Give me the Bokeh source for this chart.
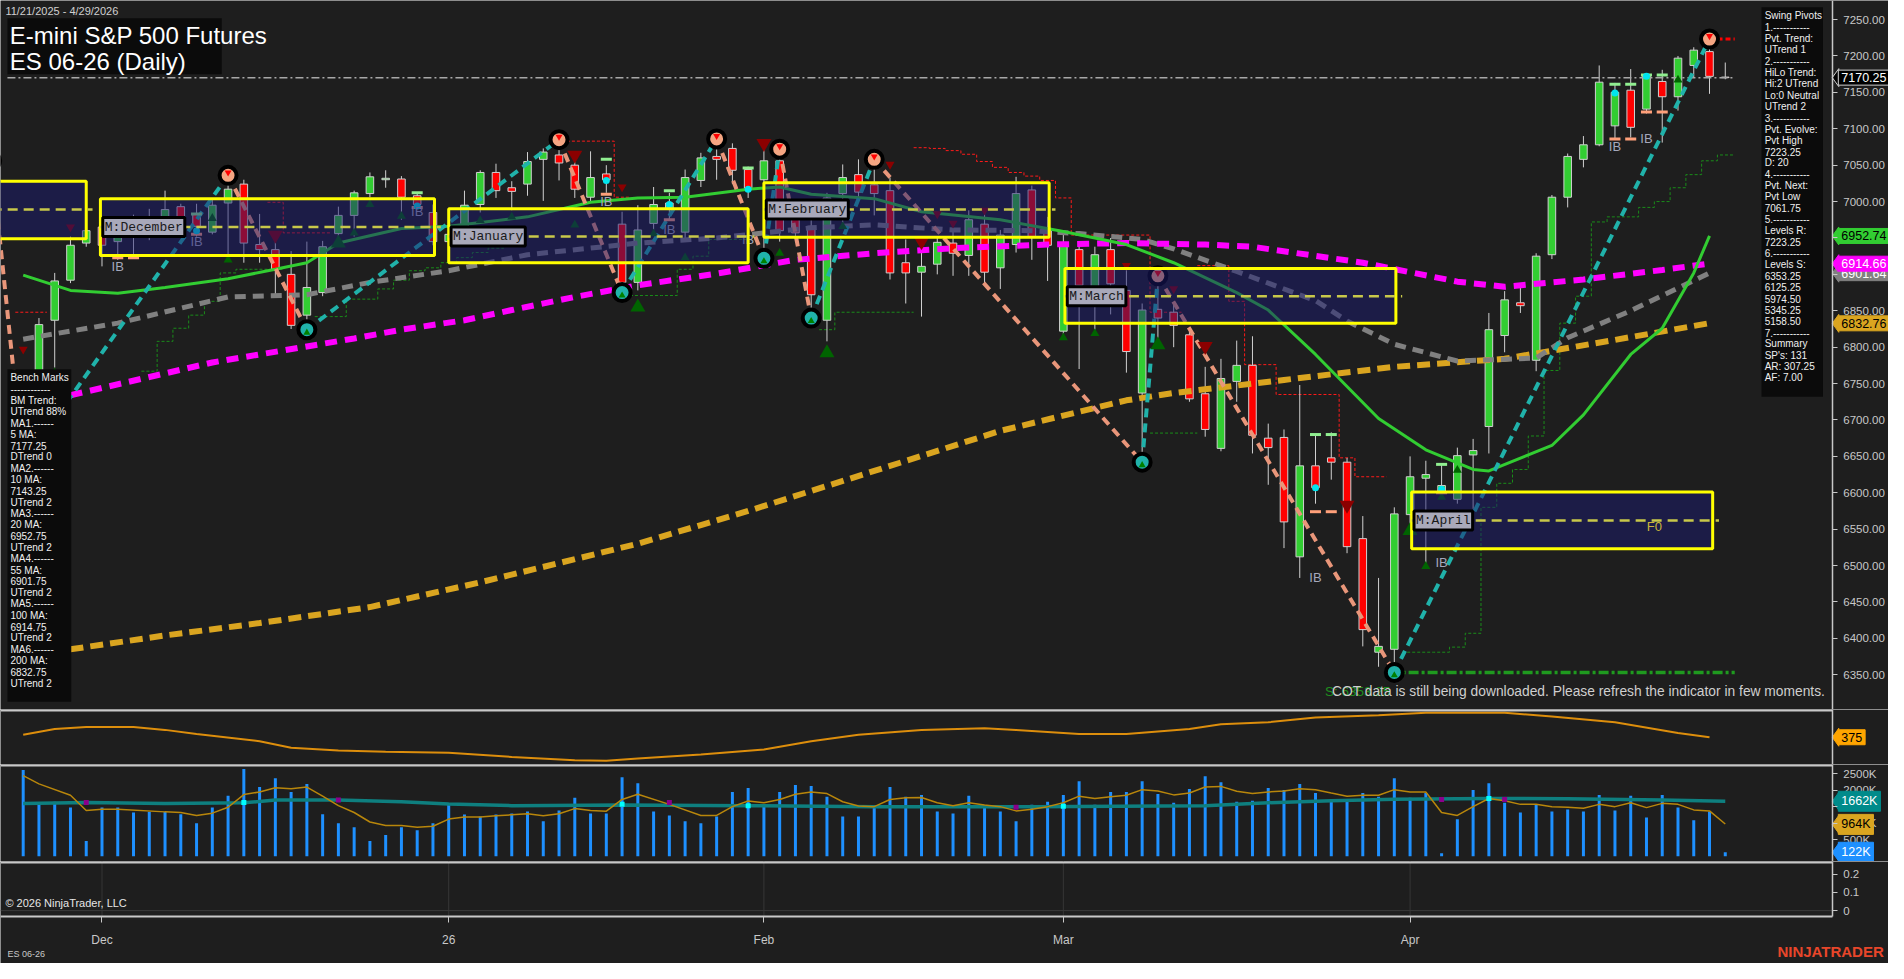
from bokeh.plotting import figure
from bokeh.layouts import column
from bokeh.models import (ColumnDataSource, Range1d, FixedTicker, NumeralTickFormatter,
                          PrintfTickFormatter, CustomJSTickFormatter, Label)
from bokeh.core.properties import value
from bokeh.embed import file_html
from bokeh.resources import INLINE

# ---------------- data ----------------
date_range = "11/21/2025 - 4/29/2026"
title_1 = "E-mini S&P 500 Futures"
title_2 = "ES 06-26 (Daily)"
month_ticks = [5, 27, 47, 66, 88]
month_labels = ["Dec", "26", "Feb", "Mar", "Apr"]

opens = [6700, 6767, 6837, 6892, 6943, 6965, 6945, 6960, 6965, 6977,
         6993, 6983, 6958, 6998, 7024, 6941, 6934, 6900, 6844, 6875,
         6956, 6981, 7011, 7030, 7031, 7008, 6985, 6945, 6952, 6996,
         7040, 7019, 7024, 7058, 7064, 7050, 7006, 7038, 6969, 6889,
         6970, 6990, 6958, 7029, 7062, 7073, 7044, 7030, 7056, 6988,
         6966, 6837, 7011, 7037, 7023, 7015, 6916, 6903, 6914, 6943,
         6926, 6969, 6909, 6941, 7016, 6960, 6822, 6934, 6864, 6934,
         6878, 6737, 6852, 6848, 6817, 6736, 6661, 6753, 6775, 6675,
         6676, 6512, 6637, 6648, 6642, 6537, 6381, 6385, 6570, 6620,
         6600, 6591, 6652, 6691, 6816, 6861, 6782, 6927, 7006, 7058,
         7078, 7104, 7153, 7127, 7165, 7144, 7187, 7206, 7171]
highs = [6760, 6840, 6902, 6952, 6972, 6968, 6965, 6982, 6990, 7015,
         6997, 6997, 7003, 7036, 7030, 6983, 6950, 6932, 6945, 6946,
         6993, 7015, 7040, 7043, 7035, 7012, 6996, 6975, 7015, 7043,
         7052, 7028, 7068, 7073, 7085, 7057, 7069, 7050, 6986, 6995,
         7020, 7012, 7044, 7067, 7086, 7080, 7048, 7072, 7072, 7000,
         6975, 7012, 7051, 7058, 7058, 7033, 6948, 6938, 6952, 6961,
         6988, 6984, 6961, 7034, 7022, 6979, 6955, 6940, 6938, 6950,
         6907, 6860, 6898, 6862, 6822, 6773, 6784, 6809, 6815, 6695,
         6687, 6748, 6680, 6683, 6648, 6568, 6483, 6580, 6650, 6644,
         6639, 6662, 6674, 6847, 6877, 6887, 6929, 7009, 7066, 7090,
         7187, 7163, 7182, 7176, 7181, 7200, 7212, 7223.25, 7191]
lows = [6640, 6755, 6772, 6888, 6938, 6911, 6920, 6925, 6947, 6966,
        6961, 6952, 6955, 6918, 6916, 6916, 6873, 6825, 6824, 6870,
        6943, 6952, 7006, 7019, 6975, 6992, 6940, 6925, 6945, 6985,
        7005, 6988, 7008, 7001, 7029, 7005, 7000, 7012, 6875, 6878,
        6961, 6975, 6948, 7020, 7030, 7024, 7005, 6922, 6945, 6945,
        6840, 6808, 6965, 7000, 6981, 6893, 6860, 6842, 6900, 6898,
        6898, 6884, 6880, 6930, 6920, 6891, 6815, 6770, 6824, 6845,
        6765, 6642, 6810, 6800, 6725, 6677, 6657, 6725, 6654, 6611,
        6524, 6483, 6585, 6618, 6517, 6389, 6361, 6353.25, 6555, 6502,
        6597, 6585, 6578, 6654, 6793, 6847, 6767, 6921, 6992, 7047,
        7076, 7086, 7088, 7121, 7081, 7125, 7170, 7148, 7168]
closes = [6752, 6831, 6891, 6940, 6960, 6940, 6952, 6970, 6972, 6989,
          6966, 6966, 6995, 7017, 6943, 6934, 6907, 6830, 6882, 6938,
          6981, 7012, 7034, 7032, 7006, 6996, 6945, 6955, 6995, 7040,
          7015, 7014, 7055, 7068, 7053, 7017, 7033, 7030, 6889, 6961,
          6996, 6998, 7033, 7060, 7058, 7043, 7018, 7056, 6960, 6957,
          6872, 7005, 7033, 7013, 7011, 6902, 6902, 6911, 6944, 6929,
          6975, 6903, 6954, 7011, 6952, 6940, 6943, 6885, 6927, 6887,
          6794, 6851, 6840, 6830, 6729, 6687, 6757, 6775, 6679, 6662,
          6560, 6637, 6607, 6642, 6526, 6412, 6389, 6571, 6622, 6625,
          6610, 6651, 6658, 6824, 6865, 6857, 6925, 7006, 7062, 7078,
          7164, 7150, 7102, 7173, 7144, 7197, 7208, 7172, 7170.25]
volume_k = [2605, 1619, 1648, 1471, 465, 1471, 1471, 1323, 1342, 1342,
            1273, 997, 1471, 1826, 2634, 2092, 2358, 1944, 2181, 1273,
            997, 879, 465, 642, 879, 790, 997, 1589, 1264, 1204,
            1264, 1293, 1352, 1056, 1382, 1767, 1293, 1293, 2388,
            2210, 1352, 1234, 1056, 997, 1204, 1944, 2062, 1500, 1944,
            2151, 2122, 1796, 1204, 1204, 1500, 2092, 1796, 1855, 1352,
            1293, 1826, 1471, 1352, 1056, 1559, 1648, 1855, 2270, 1559,
            1944, 1944, 2270, 1885, 1619, 2033, 2417, 2240, 1648, 1678,
            2062, 2003, 2181, 1914, 1707, 1707, 1914, 1796, 2358, 1767,
            1914, 90, 1116, 2003, 2210, 1619, 1323, 1559, 1352, 1411,
            1352, 1855, 1382, 1826, 1175, 1855, 1471, 1086, 1352, 122]

# moving averages (bar index, value)
ma20_x = [0, 3, 6, 9, 13, 16, 18, 20, 24, 27, 32, 36, 39, 42, 46, 48, 50, 54, 57, 62,
          66, 70, 73, 77, 79, 82, 86, 89, 92, 93, 97, 99, 102, 104, 106, 107]
ma20_y = [6899, 6878, 6874, 6882, 6894, 6907, 6916, 6943, 6963, 6966, 6979, 6999, 7005, 7006, 7017, 7020, 7010, 7004, 6986, 6975,
          6959, 6941, 6916, 6875, 6851, 6790, 6702, 6659, 6632, 6630, 6665, 6707, 6790, 6826, 6902, 6953]
ma100_x = [3, 9, 12, 15, 18, 21, 24, 28, 31, 35, 39, 44, 49, 54, 59, 65, 70, 75, 78, 85, 91, 94, 99, 104, 107]
ma100_y = [6734, 6764, 6779, 6790, 6801, 6812, 6824, 6837, 6851, 6869, 6885, 6901, 6920, 6929, 6936, 6941, 6943, 6941, 6938, 6916, 6890, 6883, 6893, 6906, 6915]
ma55_x = [0, 6, 13, 18, 22, 27, 32, 39, 44, 50, 54, 59, 64, 67, 71, 73, 77, 82, 84, 87, 91, 96, 98, 102, 105, 107]
ma55_y = [6811, 6833, 6869, 6872, 6889, 6905, 6927, 6943, 6950, 6964, 6968, 6961, 6960, 6956, 6948, 6935, 6904, 6864, 6836, 6804, 6781, 6785, 6813, 6850, 6881, 6902]
ma200_x = [3, 9, 15, 22, 29, 39, 46, 54, 62, 70, 73, 80, 87, 94, 101, 107]
ma200_y = [6385, 6404, 6421, 6443, 6477, 6530, 6575, 6630, 6685, 6727, 6737, 6755, 6773, 6784, 6810, 6833]

# swing pivots
piv_x = [-2, 0, 13, 18, 34, 38, 44, 47, 48, 50, 54, 71, 72, 87, 107]
piv_y = [7056, 6640, 7036, 6824, 7085, 6875, 7086, 6922, 7072, 6840, 7058, 6642, 6898, 6353.25, 7223.25]
piv_kind = ["H", "L", "H", "L", "H", "L", "H", "L", "H", "L", "H", "L", "H", "L", "H"]

# monthly value-area boxes
box_left = [-2.0, 4.9, 27.0, 47.0, 66.1, 88.1]
box_right = [4.0, 26.1, 46.0, 65.1, 87.1, 107.2]
box_top = [7028, 7004, 6990, 7026, 6908, 6601]
box_bottom = [6949, 6926, 6916, 6951, 6833, 6523]
box_mid = [6989, 6965, 6952, 6989, 6870, 6562]
box_names = ["", "M:December", "M:January", "M:February", "M:March", "M:April"]

# signal markers
dn_x = [0, 3, 16, 35, 38, 47, 55, 57, 58, 59, 61, 70, 73, 75, 84]
dn_y = [6797, 6965, 6954, 7064, 7020, 7080, 7051, 6945, 6983, 6970, 6988, 6912, 6880, 6801, 6583]
dn_big = [0, 0, 1, 1, 0, 1, 0, 1, 0, 0, 0, 0, 0, 1, 1]
up_x = [2, 12, 13, 20, 21, 22, 24, 29, 31, 35, 39, 40, 42, 48, 51, 52, 66, 68, 72, 88, 89, 90, 91, 105]
up_y = [6765, 6977, 6920, 6943, 6957, 6996, 6980, 6974, 6979, 6968, 6855, 6956, 6923, 6929, 6792, 6966, 6813, 6819, 6803, 6548, 6499, 6594, 6631, 7167]
up_big = [0, 0, 0, 1, 0, 0, 0, 0, 0, 0, 1, 0, 0, 0, 1, 0, 0, 0, 1, 1, 0, 0, 0, 0]
dot_x = [11, 25, 37, 41, 46, 82, 90, 101, 103]
dot_y = [6960, 6994, 7029, 6996, 7017, 6607, 6605, 7149, 7172]
ibh_x = [6, 7, 11, 25, 37, 41, 46, 82, 83, 90, 101, 102, 103, 104]
ibh_y = [6973, 6973, 6983, 7012, 7058, 7015, 7046, 6680, 6680, 6639, 7161, 7161, 7174, 7174]
ibl_x = [6, 7, 11, 25, 37, 41, 82, 83, 90, 101, 102, 103, 104]
ibl_y = [6923, 6923, 6955, 6992, 7010, 6975, 6574, 6574, 6600, 7086, 7086, 7123, 7123]
ib_x = [6, 11, 25, 37, 41, 46, 82, 90, 101, 103]
ib_y = [6911, 6945, 6986, 7000, 6962, 6948, 6483, 6504, 7075, 7086]

# trailing step levels (bar, level)
green_steps = [
    ([8, 9, 10, 11, 12, 13, 14, 15, 16], [6767, 6808, 6826, 6844, 6863, 6902, 6907, 6907, 6907]),
    ([19, 20, 21, 22, 23, 24, 25, 26, 27, 28, 29, 30], [6842, 6842, 6866, 6866, 6880, 6892, 6905, 6909, 6916, 6923, 6930, 6936]),
    ([39, 40, 41, 42, 43, 44, 45, 46], [6871, 6871, 6871, 6907, 6925, 6948, 6948, 6948]),
    ([51, 52, 53, 54, 55, 56], [6824, 6848, 6848, 6848, 6848, 6848]),
    ([72, 73, 74], [6682, 6682, 6682]),
    ([88, 89, 90, 91, 92, 93, 94, 95, 96, 97, 98, 99, 100, 101, 102, 103, 104, 105, 106, 107, 108],
     [6381, 6381, 6381, 6388, 6407, 6580, 6613, 6632, 6678, 6768, 6833, 6870, 6972, 6979, 6979, 6992, 7000, 7019, 7037, 7056, 7064]),
]
red_steps = [
    ([0, 1], [6848, 6848]),
    ([16, 17, 18, 19], [6999, 6957, 6957, 6957]),
    ([35, 36, 37, 38], [7083, 7083, 7083, 7006]),
    ([57, 58, 59, 60, 61, 62, 63, 64, 65, 66, 67, 68, 69, 70, 71, 72, 73],
     [7074, 7073, 7070, 7065, 7055, 7047, 7040, 7035, 7029, 7005, 6954, 6954, 6954, 6954, 6954, 6848, 6848]),
    ([75, 76, 77, 78, 79, 80, 81, 82, 83, 84, 85, 86],
     [6912, 6912, 6863, 6776, 6776, 6735, 6735, 6735, 6735, 6648, 6622, 6622]),
]
last_price = 7170.25
support_level = 6353.25
last_pivot_high = 7223.25

# oscillator panel
osc_x = [0, 2, 4, 7, 9, 11, 15, 17, 20, 23, 27, 31, 35, 37, 39, 43, 47, 50, 53, 57,
         61, 63, 67, 70, 74, 76, 79, 82, 86, 89, 94, 97, 101, 105, 107]
osc_y = [385, 409, 417, 417, 405, 388, 359, 332, 321, 316, 312, 295, 281, 279, 288, 305, 325, 359, 385, 405,
         412, 405, 388, 388, 409, 428, 436, 455, 465, 475, 475, 459, 436, 392, 375]

# volume averages
vma_x = [0, 1, 3, 4, 5, 6] + list(range(9, 40)) + [41] + list(range(43, 109))
vma_y = [2437, 2189, 1846, 1382, 1421, 1421,
         1342, 1323, 1234, 1303, 1481, 1865, 1944, 2072, 2042, 2092, 1817, 1530, 1323, 1036, 928, 928, 879, 908, 1125, 1184,
         1184, 1225, 1254, 1284, 1225, 1284, 1441, 1382, 1362, 1717, 1876, 1569,
         1234, 1234, 1500, 1669, 1619, 1717, 1876, 1944, 1894, 1648, 1520, 1500, 1717, 1767, 1776, 1619, 1530, 1619, 1550, 1500,
         1372, 1421, 1500, 1619, 1817, 1747, 1796, 1846, 2013, 1974, 1855, 1914, 2092, 2112, 1964, 1894, 1944, 1974, 2042, 2013,
         1914, 1817, 1846, 1846, 2013, 1944, 1944, 1323, 1234, 1500, 1747, 1678, 1569, 1569, 1500, 1481, 1451, 1569, 1500, 1619,
         1471, 1599, 1569, 1402, 1372, 976]
vavg_x = [0, 4, 9, 14, 16, 20, 24, 27, 31, 38, 46, 54, 64, 75, 79, 83, 87, 93, 98, 104, 108]
vavg_y = [1598, 1628, 1598, 1618, 1698, 1698, 1648, 1580, 1530, 1550, 1530, 1500, 1500, 1530, 1619, 1678, 1727, 1747, 1737, 1698, 1662]
vpur_x = [4, 20, 41, 63, 90, 94]
vpur_y = [1628, 1698, 1627, 1480, 1717, 1717]
vcyan_x = [14, 38, 46, 66, 93]
vcyan_y = [1628, 1569, 1530, 1510, 1747]

swing_info = ["Swing Pivots", "1.-----------", "Pvt. Trend:", "UTrend 1", "2.-----------", "HiLo Trend:",
              "Hi:2 UTrend", "Lo:0 Neutral", "UTrend 2", "3.-----------", "Pvt. Evolve:", "Pvt High", "7223.25",
              "D: 20", "4.-----------", "Pvt. Next:", "Pvt Low", "7061.75", "5.-----------", "Levels R:", "7223.25",
              "6.-----------", "Levels S:", "6353.25", "6125.25", "5974.50", "5345.25", "5158.50", "7.-----------",
              "Summary", "SP's: 131", "AR: 307.25", "AF: 7.00"]
bench_info = ["Bench Marks", "------------", "BM Trend:", "UTrend 88%", "MA1.------", "5 MA:", "7177.25", "DTrend 0",
              "MA2.------", "10 MA:", "7143.25", "UTrend 2", "MA3.------", "20 MA:", "6952.75", "UTrend 2",
              "MA4.------", "55 MA:", "6901.75", "UTrend 2", "MA5.------", "100 MA:", "6914.75", "UTrend 2",
              "MA6.------", "200 MA:", "6832.75", "UTrend 2"]

# ---------------- styling / layout ----------------
BG = "#1e1e1e"
AXC = "#c8c8c8"
FONT = "Liberation Sans"
W = 1888
PXU = 15.76                 # pixels per bar
X0 = -1.44
X1 = X0 + W / PXU
AX_X = 114.79               # where the price axis sits
xr = Range1d(X0, X1)


def make_fig(h, y0, y1, bounds=None, xaxis=False):
    p = figure(width=W, height=h, x_range=xr, y_range=Range1d(y0, y1),
               output_backend="svg", toolbar_location=None,
               x_axis_location="below" if xaxis else None, y_axis_location="right",
               min_border=0, min_border_left=0, min_border_right=0, min_border_top=0,
               min_border_bottom=0, background_fill_color=BG,
               border_fill_color=BG, outline_line_color=None)
    p.grid.visible = False
    ax = p.yaxis[0]
    ax.fixed_location = AX_X
    if bounds is not None:
        ax.bounds = bounds
    ax.axis_line_color = AXC
    ax.axis_line_width = 1.5
    ax.major_tick_line_color = AXC
    ax.major_tick_out = 5
    ax.major_tick_in = 0
    ax.minor_tick_line_color = None
    ax.major_label_text_color = AXC
    ax.major_label_text_font = FONT
    ax.major_label_text_font_size = "11.5px"
    ax.major_label_standoff = 6
    return p


def tag(p, y, text, bg, fg, frame_h, y0, y1, border=None):
    du = (y1 - y0) / frame_h
    p.patch([AX_X, AX_X + 6.5 / PXU, AX_X + 6.5 / PXU], [y, y + 9 * du, y - 9 * du],
            fill_color=bg, line_color=border or bg, line_width=1)
    p.add_layout(Label(x=AX_X, y=y, x_offset=6, text=text, text_baseline="middle", text_align="left",
                       text_font=FONT, text_font_size="12.5px", text_color=fg,
                       background_fill_color=bg, border_line_color=border or bg, border_line_width=1,
                       padding=3))


def sep(p, y):
    p.line([X0, AX_X], [y, y], line_color=AXC, line_width=2)


def step_xy(bars, levels):
    xs, ys = [], []
    for b, v in zip(bars, levels):
        xs += [b - 0.5, b + 0.5]
        ys += [v, v]
    return xs, ys


# ---------- price panel ----------
PH = 709
PY0, PY1 = 6302.3, 7276.2
pp = make_fig(PH, PY0, PY1)
pp.yaxis[0].ticker = FixedTicker(ticks=list(range(6350, 7251, 50)))
pp.yaxis[0].formatter = NumeralTickFormatter(format="0.00")

for bars, lv in green_steps:
    xs, ys = step_xy(bars, lv)
    pp.line(xs, ys, line_color="#1a8c1a", line_width=1, line_dash="3 2")
for bars, lv in red_steps:
    xs, ys = step_xy(bars, lv)
    pp.line(xs, ys, line_color="#ff1a1a", line_width=1, line_dash="3 2")

idx = list(range(len(opens)))
csrc = ColumnDataSource(dict(
    x=idx, h=highs, l=lows,
    top=[max(o, c) for o, c in zip(opens, closes)],
    bot=[min(o, c) for o, c in zip(opens, closes)],
    col=["#32cd32" if c >= o else "#ff0000" for o, c in zip(opens, closes)]))
pp.segment(x0="x", y0="l", x1="x", y1="h", line_color="#d0d0d0", line_width=1, source=csrc)
pp.vbar(x="x", width=0.48, top="top", bottom="bot", fill_color="col", line_color="#d0d0d0",
        line_width=1, source=csrc)

pp.line(ma200_x, ma200_y, line_color="#daa520", line_width=6, line_dash="13 7")
pp.line(ma55_x, ma55_y, line_color="#808080", line_width=5, line_dash="11 7")
pp.line(ma100_x, ma100_y, line_color="#ff00ff", line_width=6, line_dash="12 8")
pp.line(ma20_x, ma20_y, line_color="#32cd32", line_width=3)

pp.line([-1.0, 108.6], [last_price, last_price], line_color="#a8a8a8", line_width=1.5, line_dash="8 3 2 3")
pp.line([86.7, 108.6], [support_level, support_level], line_color="#1f9a1f", line_width=3.5, line_dash="10 3 3 3")

# swing legs
for i in range(len(piv_x) - 1):
    up = piv_kind[i] == "L"
    pp.line([piv_x[i], piv_x[i + 1]], [piv_y[i], piv_y[i + 1]],
            line_color="#20b2aa" if up else "#e9967a", line_width=4, line_dash="9 6")
pp.line([107, 108.6], [last_pivot_high, last_pivot_high], line_color="#ff0000", line_width=3, line_dash="5 3")

# markers
pp.scatter(dn_x, dn_y, marker="inverted_triangle", size=[15 if b else 9 for b in dn_big],
           fill_color="#8b0000", line_color=None)
pp.scatter(up_x, up_y, marker="triangle", size=[15 if b else 9 for b in up_big],
           fill_color="#006400", line_color=None)
pp.rect(ibh_x, ibh_y, width=0.7, height=3, height_units="screen", fill_color="#90ee90", line_color=None)
pp.rect(ibl_x, ibl_y, width=0.7, height=3, height_units="screen", fill_color="#ffa07a", line_color=None)
pp.scatter(dot_x, dot_y, marker="circle", size=7, fill_color="#00e5ee", line_color=None)
pp.text(ib_x, ib_y, text=["IB"] * len(ib_x), text_font=value(FONT), text_font_size=value("13px"),
        text_color="#a4a8bc", text_align="center", text_baseline="middle")

# pivot circles
hx = [x for x, k in zip(piv_x, piv_kind) if k == "H"]
hy = [y for y, k in zip(piv_y, piv_kind) if k == "H"]
lx = [x for x, k in zip(piv_x, piv_kind) if k == "L"]
ly = [y for y, k in zip(piv_y, piv_kind) if k == "L"]
pp.scatter(hx, hy, marker="circle", size=17, fill_color="#f4a582", line_color="#000000", line_width=4)
pp.scatter(hx, [y + 4 for y in hy], marker="inverted_triangle", size=7, fill_color="#ff0000", line_color=None)
pp.scatter(lx, ly, marker="circle", size=17, fill_color="#20b2aa", line_color="#000000", line_width=4)
pp.scatter(lx, [y - 4 for y in ly], marker="triangle", size=7, fill_color="#008000", line_color=None)

# monthly boxes
pp.quad(left=box_left, right=box_right, top=box_top, bottom=box_bottom,
        fill_color="#191970", fill_alpha=0.5, line_color="#ffff00", line_width=3)
pp.segment(x0=box_left, x1=[r + 0.4 for r in box_right], y0=box_mid, y1=box_mid,
           line_color="#c8c84a", line_width=2.5, line_dash="10 6")
for l, m, n in zip(box_left, box_mid, box_names):
    if n:
        pp.add_layout(Label(x=l + 0.15, y=m, text=n, text_baseline="middle", text_align="left",
                            text_font="Liberation Mono", text_font_size="13px", text_color="#1a1a1a",
                            background_fill_color="#a9a9ba", border_line_color="#000000",
                            border_line_width=3, padding=2))
pp.text([103.5], [6553.5], text=["F0"], text_font=value(FONT), text_font_size=value("13px"),
        text_color="#c8b43c", text_align="center", text_baseline="middle")

# info boxes
pp.quad(left=[-1.0, 110.3, -1.0], right=[12.6, 114.2, 3.05], top=[7251.9, 7266.8, 6769.7],
        bottom=[7174.9, 6731.8, 6313.0], fill_color="#0b0b0b", line_color=None)
pp.text([-0.85, -0.85], [7228.5, 7192.5], text=[title_1, title_2], text_font=value(FONT),
        text_font_size=value("24px"), text_color="#ffffff", text_baseline="middle")
pp.text([-1.13], [7261.3], text=[date_range], text_font=value(FONT), text_font_size=value("11px"),
        text_color="#d0d0d0", text_baseline="middle")
pp.text([110.5] * len(swing_info), [7255.0 - 15.534 * k for k in range(len(swing_info))], text=swing_info,
        text_font=value(FONT), text_font_size=value("10px"), text_color="#f0f0f0", text_baseline="middle")
pp.text([-0.81] * len(bench_info), [6757.9 - 15.534 * k for k in range(len(bench_info))], text=bench_info,
        text_font=value(FONT), text_font_size=value("10px"), text_color="#f0f0f0", text_baseline="middle")
pp.text([82.6], [6327], text=["S: 6353.25"], text_font=value(FONT), text_font_size=value("13.5px"),
        text_color="#1f8f1f", text_baseline="middle")
pp.text([83.05], [6327], text=["COT data is still being downloaded. Please refresh the indicator in few moments."],
        text_font=value(FONT), text_font_size=value("13.8px"), text_color="#cfcfcf", text_baseline="middle")

tag(pp, 6901.64, "6901.64", "#808080", "#ffffff", PH, PY0, PY1)
tag(pp, 6914.66, "6914.66", "#ff00ff", "#ffffff", PH, PY0, PY1)
tag(pp, 6952.74, "6952.74", "#32cd32", "#000000", PH, PY0, PY1)
tag(pp, 6832.76, "6832.76", "#daa520", "#000000", PH, PY0, PY1)
tag(pp, last_price, "7170.25", "#000000", "#ffffff", PH, PY0, PY1, border="#d0d0d0")

# ---------- oscillator panel ----------
OH = 55
OY0, OY1 = 264.0, 488.0
po = make_fig(OH, OY0, OY1)
po.yaxis[0].ticker = FixedTicker(ticks=[])
po.line(osc_x, osc_y, line_color="#dd8e0c", line_width=2)
sep(po, OY1 - (OY1 - OY0) / OH)
tag(po, 375, "375", "#ffa500", "#000000", OH, OY0, OY1)

# ---------- volume panel ----------
VH = 97
VY0, VY1 = -157.0, 2773.0
pv = make_fig(VH, VY0, VY1)
pv.yaxis[0].ticker = FixedTicker(ticks=[500, 1000, 1500, 2000, 2500])
pv.yaxis[0].formatter = PrintfTickFormatter(format="%dK")
pv.vbar(x=idx, width=0.19, top=volume_k, bottom=0, fill_color="#1e90ff", line_color=None)
pv.line(vavg_x, vavg_y, line_color="#0e7f7f", line_width=3.5)
pv.line(vma_x, vma_y, line_color="#b8860b", line_width=1.5)
pv.scatter(vpur_x, vpur_y, marker="square", size=5, fill_color="#8b008b", line_color=None)
pv.scatter(vcyan_x, vcyan_y, marker="square", size=5, fill_color="#00ffff", line_color=None)
sep(pv, VY1 - (VY1 - VY0) / VH)
tag(pv, 1662, "1662K", "#008b8b", "#ffffff", VH, VY0, VY1)
tag(pv, 964, "964K", "#daa520", "#000000", VH, VY0, VY1)
tag(pv, 122, "122K", "#1e90ff", "#ffffff", VH, VY0, VY1)

# ---------- bottom panel with date axis ----------
BH = 102
BP0, BP1 = -0.0324, 0.2703          # the panel itself
BY0 = BP0 - 47 * (BP1 - BP0) / 55   # room for the date axis below it
pb = make_fig(BH, BY0, BP1, bounds=(BP0, BP1), xaxis=True)
pb.yaxis[0].ticker = FixedTicker(ticks=[0, 0.1, 0.2])
pb.yaxis[0].formatter = CustomJSTickFormatter(code="return tick == 0 ? '0' : tick.toFixed(1);")
bx = pb.xaxis[0]
bx.fixed_location = BP0
bx.bounds = (X0, AX_X)
bx.ticker = FixedTicker(ticks=month_ticks)
bx.major_label_overrides = {t: s for t, s in zip(month_ticks, month_labels)}
bx.axis_line_color = AXC
bx.axis_line_width = 2
bx.major_tick_line_color = AXC
bx.major_tick_out = 6
bx.major_tick_in = 0
bx.minor_tick_line_color = None
bx.major_label_text_color = AXC
bx.major_label_text_font = FONT
bx.major_label_text_font_size = "12px"
bx.major_label_standoff = 10
pb.segment(x0=month_ticks, x1=month_ticks, y0=[BP0] * len(month_ticks), y1=[BP1] * len(month_ticks),
           line_color="#363636", line_width=1)
pb.line([X0, AX_X], [0, 0], line_color="#3a3a3a", line_width=1)
sep(pb, BP1 - (BP1 - BP0) / 55)
pb.text([-1.13], [0.043], text=["\u00a9 2026 NinjaTrader, LLC"], text_font=value(FONT),
        text_font_size=value("11px"), text_color="#e6e6e6", text_baseline="middle")
pb.text([-1.0], [-0.24], text=["ES 06-26"], text_font=value(FONT), text_font_size=value("9px"),
        text_color="#c8c8c8", text_baseline="middle")
pb.text([X1 - 0.3], [-0.225], text=["NINJATRADER"], text_font=value(FONT), text_font_size=value("15px"),
        text_font_style="bold", text_color="#e8462a", text_baseline="middle", text_align="right")

layout = column(pp, po, pv, pb)
html = file_html(layout, INLINE).replace("<body>", '<body style="background-color:#1e1e1e;">', 1)
open("out.html", "w").write(html)
